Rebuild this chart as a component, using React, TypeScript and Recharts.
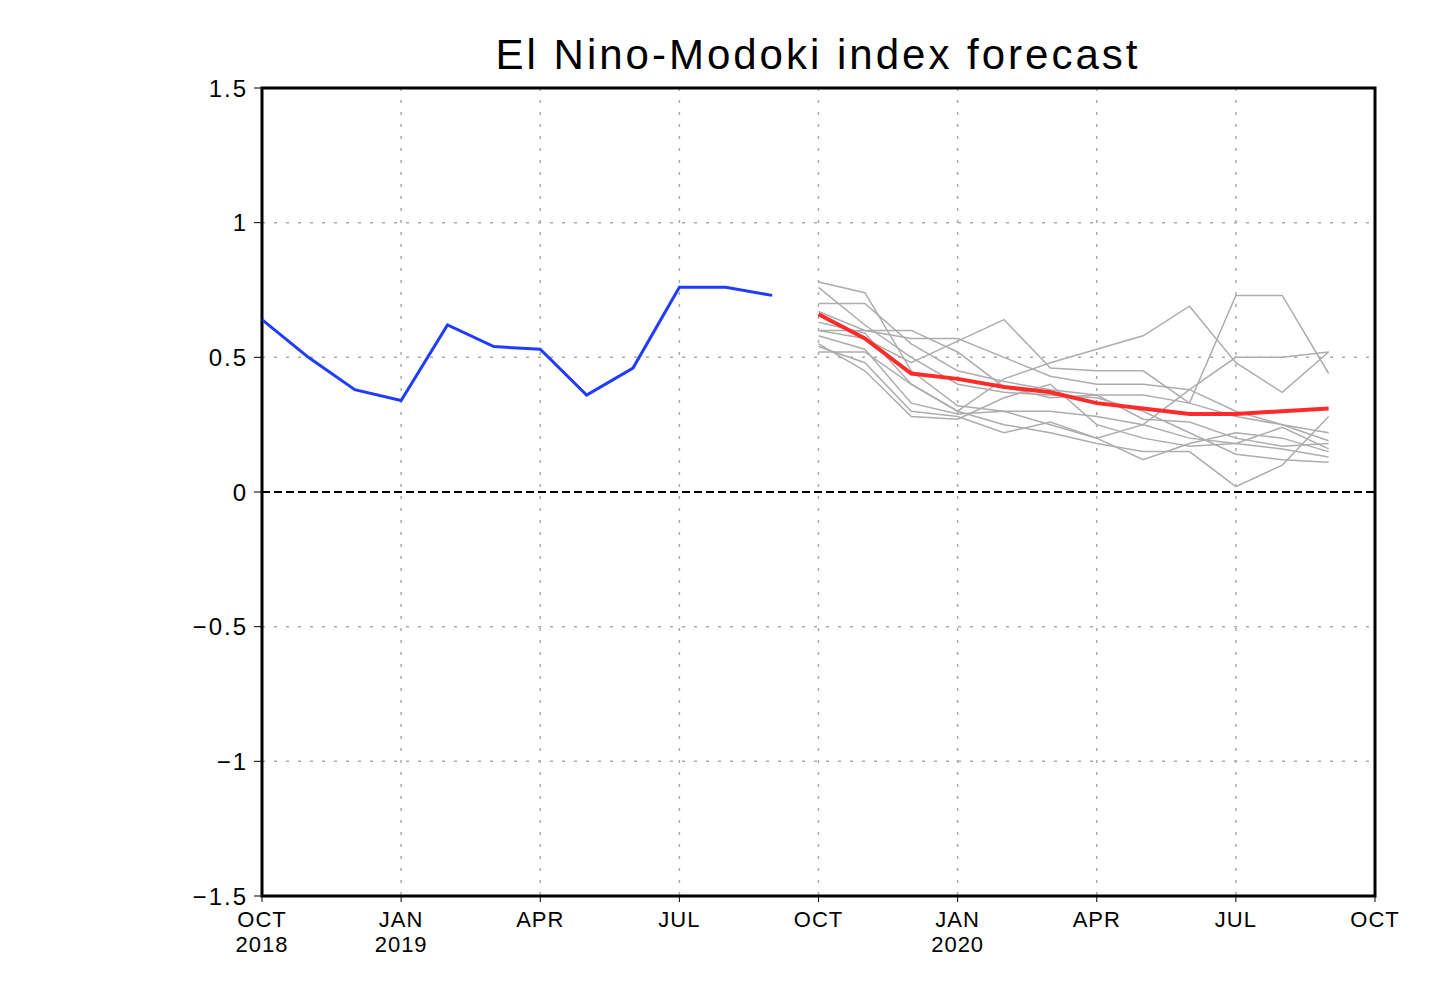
import { LineChart, Line, XAxis, YAxis, CartesianGrid, ReferenceLine, ReferenceArea } from 'recharts';

// months counted from OCT 2018 (0) to OCT 2020 (24)
const xTicks = [0, 3, 6, 9, 12, 15, 18, 21, 24];
const monthLabels = ['OCT', 'JAN', 'APR', 'JUL', 'OCT', 'JAN', 'APR', 'JUL', 'OCT'];
const yearLabels = ['2018', '2019', '', '', '', '2020', '', '', ''];
const yTicks = [-1.5, -1, -0.5, 0, 0.5, 1, 1.5];

// observed index, OCT 2018 .. SEP 2019
const observed = [0.64, 0.5, 0.38, 0.34, 0.62, 0.54, 0.53, 0.36, 0.46, 0.76, 0.76, 0.73];

// ensemble mean forecast, OCT 2019 .. SEP 2020
const ensembleMean = [0.66, 0.57, 0.44, 0.42, 0.39, 0.37, 0.33, 0.31, 0.29, 0.29, 0.3, 0.31];

// individual members, OCT 2019 .. SEP 2020
const members = [
  [0.78, 0.74, 0.45, 0.32, 0.3, 0.3, 0.28, 0.25, 0.2, 0.18, 0.16, 0.13],
  [0.76, 0.62, 0.5, 0.4, 0.37, 0.36, 0.35, 0.3, 0.22, 0.14, 0.12, 0.11],
  [0.7, 0.7, 0.55, 0.45, 0.41, 0.38, 0.36, 0.36, 0.33, 0.28, 0.25, 0.22],
  [0.6, 0.57, 0.48, 0.56, 0.64, 0.46, 0.45, 0.45, 0.33, 0.73, 0.73, 0.44],
  [0.63, 0.59, 0.4, 0.3, 0.42, 0.48, 0.53, 0.58, 0.69, 0.48, 0.37, 0.52],
  [0.58, 0.53, 0.33, 0.29, 0.3, 0.25, 0.2, 0.25, 0.38, 0.5, 0.5, 0.52],
  [0.52, 0.52, 0.4, 0.3, 0.25, 0.22, 0.18, 0.15, 0.15, 0.02, 0.1, 0.28],
  [0.54, 0.48, 0.3, 0.28, 0.22, 0.26, 0.2, 0.12, 0.18, 0.22, 0.2, 0.15],
  [0.67, 0.6, 0.57, 0.57, 0.5, 0.43, 0.4, 0.4, 0.38, 0.3, 0.25, 0.19],
  [0.6, 0.6, 0.6, 0.52, 0.39, 0.35, 0.36, 0.27, 0.26, 0.2, 0.17, 0.18],
  [0.55, 0.45, 0.28, 0.27, 0.35, 0.4, 0.25, 0.2, 0.17, 0.18, 0.24, 0.16],
];

const FONT = "'Liberation Sans', Arial, sans-serif";

const toPoints = (vals: number[], start: number) => vals.map((v, i) => ({ x: start + i, y: v }));

const fmtY = (v: number) => (v < 0 ? '\u2212' + String(-v) : String(v));

const MonthTick = (props: any) => {
  const { x, y, payload } = props;
  const i = xTicks.indexOf(payload.value);
  return (
    <g transform={`translate(${x},${y})`}>
      <text textAnchor="middle" fontSize={22} fill="#000" fontFamily={FONT} letterSpacing={1}>
        <tspan x={0} dy={25}>{monthLabels[i]}</tspan>
        {yearLabels[i] && <tspan x={0} dy={25}>{yearLabels[i]}</tspan>}
      </text>
    </g>
  );
};

export default function App() {
  return (
    <div style={{ position: 'relative', width: 1440, height: 982, margin: -8, background: '#fff' }}>
      <div
        style={{
          position: 'absolute',
          left: 0,
          width: 1636,
          top: 31,
          textAlign: 'center',
          fontFamily: FONT,
          fontSize: 42,
          letterSpacing: 3,
          color: '#000',
        }}
      >
        El Nino-Modoki index forecast
      </div>
      <LineChart width={1440} height={982} margin={{ top: 88, left: 202, right: 65, bottom: 56 }}>
        <CartesianGrid stroke="#aaa" strokeDasharray="3 9" strokeWidth={1.5} />
        <XAxis
          type="number"
          dataKey="x"
          domain={[0, 24]}
          ticks={xTicks}
          interval={0}
          height={30}
          tick={<MonthTick />}
          tickSize={6}
          tickMargin={0}
          stroke="#000"
          allowDuplicatedCategory={false}
        />
        <YAxis
          type="number"
          dataKey="y"
          domain={[-1.5, 1.5]}
          ticks={yTicks}
          width={60}
          tickSize={8}
          tickMargin={6}
          tickFormatter={fmtY}
          stroke="#000"
          tick={{ fill: '#000', fontSize: 24, fontFamily: FONT, letterSpacing: 2 }}
        />
        <ReferenceLine y={0} stroke="#000" strokeWidth={2} strokeDasharray="8 4" />
        {members.map((m, k) => (
          <Line
            key={`m${k}`}
            data={toPoints(m, 12)}
            dataKey="y"
            type="linear"
            stroke="#adadad"
            strokeWidth={1.5}
            dot={false}
            isAnimationActive={false}
          />
        ))}
        <Line
          data={toPoints(ensembleMean, 12)}
          dataKey="y"
          type="linear"
          stroke="#ff2b2b"
          strokeWidth={4}
          dot={false}
          isAnimationActive={false}
        />
        <Line
          data={toPoints(observed, 0)}
          dataKey="y"
          type="linear"
          stroke="#1f3cff"
          strokeWidth={3}
          dot={false}
          isAnimationActive={false}
        />
        <ReferenceArea x1={0} x2={24} y1={-1.5} y2={1.5} fill="none" stroke="#000" strokeWidth={3} ifOverflow="visible" />
      </LineChart>
    </div>
  );
}
